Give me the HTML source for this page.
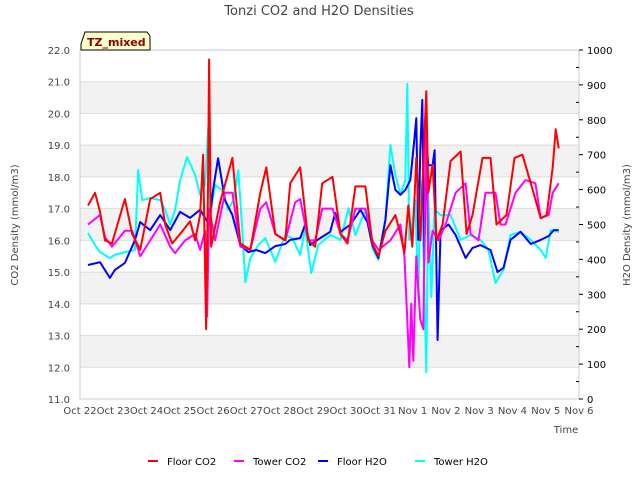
<!DOCTYPE html>
<html><head><meta charset="utf-8"><style>
body{margin:0;background:#fff;font-family:"Liberation Sans","DejaVu Sans",sans-serif}
svg text{font-family:"DejaVu Sans","Liberation Sans",sans-serif}
</style></head><body>
<svg id="chart" width="640" height="480" xmlns="http://www.w3.org/2000/svg">
<text x="319" y="15" font-size="13" fill="#444" text-anchor="middle">Tonzi CO2 and H2O Densities</text>
<g id="bands"></g>
<g id="grid"></g>
<rect x="80" y="50" width="499" height="349" fill="none" stroke="#ccc"/>
<g id="axes"></g>
<g id="series"></g>
<path d="M81 44 L85 32 L147 32 L150 36 L150 50 L81 50 Z" fill="#ffffcc" stroke="#000"/>
<text x="87" y="46" font-size="11" font-weight="bold" fill="#8b0000">TZ_mixed</text>
<text x="566" y="433" font-size="10" fill="#444" text-anchor="middle">Time</text>
<text transform="translate(18,225) rotate(-90)" font-size="10" fill="#444" text-anchor="middle">CO2 Density (mmol/m3)</text>
<text transform="translate(630,225) rotate(-90)" font-size="10" fill="#444" text-anchor="middle">H2O Density (mmol/m3)</text>
<g id="legend"></g>
</svg>
<script>
const xLabels=["Oct 22","Oct 23","Oct 24","Oct 25","Oct 26","Oct 27","Oct 28","Oct 29","Oct 30","Oct 31","Nov 1","Nov 2","Nov 3","Nov 4","Nov 5","Nov 6"];
const leftTicks=[11,12,13,14,15,16,17,18,19,20,21,22];
const rightTicks=[0,100,200,300,400,500,600,700,800,900,1000];
const seriesNames=["Floor CO2","Tower CO2","Floor H2O","Tower H2O"];
const seriesColors=["#ff0000","#ff00ff","#0000ff","#00ffff"];
const floorCO2=[[0.24,17.1],[0.45,17.5],[0.60,16.9],[0.75,16.0],[0.96,15.9],[1.35,17.3],[1.57,16.2],[1.81,15.7],[2.11,17.3],[2.41,17.5],[2.56,16.5],[2.77,15.9],[3.01,16.2],[3.31,16.6],[3.46,16.0],[3.61,16.8],[3.70,18.7],[3.79,13.2],[3.85,18.0],[3.88,21.7],[3.94,15.8],[4.21,17.2],[4.58,18.6],[4.82,15.9],[5.12,15.7],[5.42,17.5],[5.60,18.3],[5.87,16.2],[6.17,16.0],[6.32,17.8],[6.62,18.3],[6.86,16.0],[7.07,15.8],[7.28,17.8],[7.59,18.0],[7.83,16.2],[8.04,15.9],[8.28,17.7],[8.58,17.7],[8.79,15.9],[8.97,15.5],[9.18,16.3],[9.48,16.8],[9.63,16.2],[9.75,15.6],[9.87,17.1],[9.99,15.8],[10.11,18.6],[10.23,16.0],[10.35,19.2],[10.41,20.7],[10.47,17.5],[10.60,18.4],[10.72,16.0],[10.90,16.5],[11.14,18.5],[11.44,18.8],[11.62,16.2],[11.80,16.8],[12.10,18.6],[12.34,18.6],[12.52,16.5],[12.82,16.8],[13.06,18.6],[13.30,18.7],[13.55,17.8],[13.85,16.7],[14.03,16.8],[14.21,18.3],[14.30,19.5],[14.39,18.9]];
const towerCO2=[[0.24,16.5],[0.60,16.8],[0.75,16.1],[0.96,15.8],[1.35,16.3],[1.57,16.3],[1.81,15.5],[2.11,16.0],[2.41,16.5],[2.71,15.8],[2.86,15.6],[3.16,16.0],[3.46,16.2],[3.61,15.7],[3.76,16.3],[3.82,13.6],[3.88,17.0],[4.06,16.0],[4.36,17.5],[4.58,17.5],[4.82,15.8],[5.12,15.7],[5.42,17.0],[5.60,17.2],[5.87,16.2],[6.17,16.0],[6.47,17.2],[6.62,17.3],[6.86,16.0],[7.07,16.0],[7.28,17.0],[7.59,17.0],[7.83,16.2],[8.04,16.0],[8.28,17.0],[8.58,17.0],[8.79,16.0],[8.97,15.7],[9.33,16.0],[9.63,16.5],[9.75,15.5],[9.84,13.5],[9.90,12.0],[9.96,14.0],[10.02,12.2],[10.11,15.5],[10.23,13.5],[10.32,13.2],[10.41,20.2],[10.47,15.3],[10.60,16.3],[10.78,16.0],[10.99,16.5],[11.29,17.5],[11.59,17.8],[11.74,16.2],[11.98,16.0],[12.19,17.5],[12.49,17.5],[12.64,16.5],[12.79,16.5],[13.09,17.5],[13.39,17.9],[13.69,17.8],[13.85,16.7],[14.09,16.8],[14.21,17.5],[14.39,17.8]];
const floorH2O=[[0.24,384],[0.60,392],[0.90,347],[1.05,370],[1.35,390],[1.65,455],[1.81,507],[2.11,484],[2.41,527],[2.71,484],[3.01,536],[3.31,519],[3.61,542],[3.76,519],[3.88,500],[4.00,599],[4.15,690],[4.36,570],[4.58,527],[4.82,441],[5.06,421],[5.30,427],[5.57,418],[5.87,438],[6.17,444],[6.32,456],[6.62,461],[6.77,500],[6.92,441],[7.22,461],[7.52,479],[7.67,533],[7.83,479],[8.13,500],[8.43,542],[8.64,507],[8.79,441],[8.97,404],[9.18,513],[9.33,670],[9.48,599],[9.63,585],[9.78,599],[9.93,627],[10.05,742],[10.11,805],[10.17,456],[10.23,713],[10.29,857],[10.35,398],[10.41,742],[10.47,670],[10.60,670],[10.66,713],[10.75,169],[10.84,484],[11.08,500],[11.29,470],[11.59,404],[11.80,433],[12.04,441],[12.34,427],[12.55,364],[12.73,376],[12.94,456],[13.24,479],[13.55,444],[13.85,456],[14.09,467],[14.24,484],[14.39,484]];
const towerH2O=[[0.24,476],[0.45,441],[0.60,421],[0.90,404],[1.05,413],[1.35,421],[1.65,427],[1.75,656],[1.87,570],[2.11,576],[2.41,570],[2.56,542],[2.71,500],[2.86,542],[3.01,627],[3.22,693],[3.46,642],[3.61,585],[3.76,613],[3.85,777],[3.91,527],[4.06,613],[4.27,599],[4.45,542],[4.61,570],[4.76,656],[4.88,484],[4.97,335],[5.12,404],[5.36,441],[5.57,461],[5.72,427],[5.87,393],[6.17,470],[6.38,461],[6.62,413],[6.77,490],[6.95,361],[7.16,441],[7.52,470],[7.83,456],[8.07,547],[8.28,470],[8.58,542],[8.79,433],[8.97,398],[9.18,513],[9.33,728],[9.48,642],[9.63,585],[9.78,627],[9.84,903],[9.90,456],[9.96,484],[10.08,570],[10.17,284],[10.23,627],[10.32,427],[10.41,77],[10.47,585],[10.56,292],[10.66,542],[10.84,527],[11.14,527],[11.44,456],[11.74,470],[12.04,456],[12.28,427],[12.49,332],[12.73,370],[12.94,470],[13.24,479],[13.55,456],[13.85,427],[14.00,404],[14.15,484],[14.39,479]];

const NS="http://www.w3.org/2000/svg";
const X0=80,X1=579,Y0=399,Y1=50;
const xs=t=>X0+t*(X1-X0)/(xLabels.length-1);
const yl=v=>Y0-(v-11)*(Y0-Y1)/11;
const yr=v=>Y0-v*(Y0-Y1)/1000;
function mk(tag,attrs,parent){const e=document.createElementNS(NS,tag);for(const k in attrs)e.setAttribute(k,attrs[k]);parent.appendChild(e);return e;}
const bands=document.getElementById('bands'),grid=document.getElementById('grid'),axes=document.getElementById('axes'),ser=document.getElementById('series'),leg=document.getElementById('legend');
for(let i=0;i<leftTicks.length-1;i++){
  if(leftTicks[i]%2===0){const b=mk('rect',{x:X0,y:yl(leftTicks[i]+1),width:X1-X0,height:yl(leftTicks[i])-yl(leftTicks[i]+1),fill:'#f2f2f2'},bands);
  
  }
}
leftTicks.forEach(v=>{
  const l=mk('line',{x1:X0,x2:X1,y1:yl(v),y2:yl(v),stroke:'#ddd'},grid);
  
  
  const t=mk('text',{x:70,y:yl(v)+4,'font-size':10,fill:'#444','text-anchor':'end'},axes);t.textContent=v.toFixed(1);
  
  
});
rightTicks.forEach(v=>{
  const t=mk('text',{x:587,y:yr(v)+4,'font-size':10,fill:'#000'},axes);t.textContent=v;
  
  
  mk('line',{x1:X1,x2:X1+4,y1:yr(v),y2:yr(v),stroke:'#000'},axes);
  if(v<1000)mk('line',{x1:X1-3,x2:X1,y1:yr(v+50),y2:yr(v+50),stroke:'#000'},axes);
});
xLabels.forEach((s,i)=>{
  const t=mk('text',{x:xs(i),y:414,'font-size':10,fill:'#444','text-anchor':'middle'},axes);t.textContent=s;
  
  
});
function draw(data,color,yf,name){
  const p=mk('polyline',{points:data.map(d=>xs(d[0]).toFixed(1)+','+yf(d[1]).toFixed(1)).join(' '),fill:'none',stroke:color,'stroke-width':2,'stroke-linejoin':'round'},ser);
  
  
}
draw(towerH2O,seriesColors[3],yr,'tower-h2o-line');
draw(floorH2O,seriesColors[2],yr,'floor-h2o-line');
draw(towerCO2,seriesColors[1],yl,'tower-co2-line');
draw(floorCO2,seriesColors[0],yl,'floor-co2-line');
const legX=[148,234,318,415];
seriesNames.forEach((n,i)=>{
  const g=mk('g',{},leg);
  
  
  mk('line',{x1:legX[i],x2:legX[i]+10,y1:461,y2:461,stroke:seriesColors[i],'stroke-width':2},g);
  const t=mk('text',{x:legX[i]+19,y:465,'font-size':10,fill:'#000'},g);t.textContent=n;
});
</script>
</body></html>
